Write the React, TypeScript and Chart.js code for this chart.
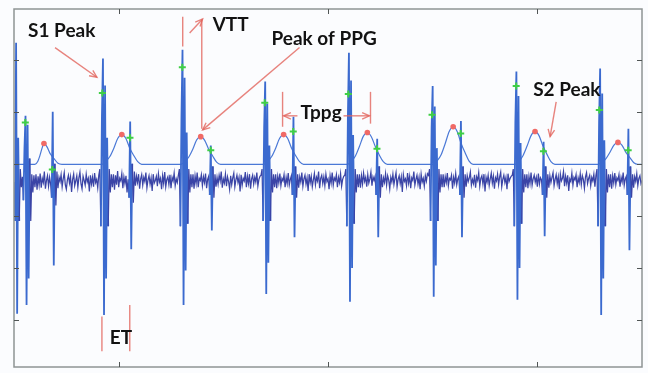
import React, { useEffect, useRef } from 'react';
import { Chart, registerables } from 'chart.js';

Chart.register(...registerables);

// Time base (ms) of the heart-sound (PCG) recording
const PCG_T0 = 500;
const PCG_DT = 5;

// PCG amplitude samples (a.u.), one every PCG_DT ms
const PCG = [
  15, -60, 282, -238, 100, -60, 40, 5, 25, -20, 80, 142, -221, 125, -170, 60, -60, 30, -5, 28,
  5, 30, 0, 26, 9, 31, 4, 22, 14, 35, 2, 18, 27, 7, 24, 11, -15, 150, -145, 50,
  -30, 35, 3, 24, 16, 29, 6, 21, 33, 10, 1, 19, 28, 13, 25, -4, 20, 30, 8, 17,
  27, 5, 23, 34, 12, 2, 26, 18, 9, 30, 15, 22, -3, 28, 11, 24, 6, 32, 14, 20,
  4, 28, 40, -70, 140, 252, -240, 200, -170, 100, -70, 40, -5, 30, 5, 30, 0, 28, 10, 36,
  5, 22, 17, 31, 3, 25, 12, 27, -5, 20, -15, 131, -114, 50, -25, 35, 8, 26, 14, 30,
  2, 21, 29, 9, 24, 16, 33, 4, 19, 27, 11, 23, -2, 30, 13, 18, 26, 7, 31, 15,
  22, 1, 27, 12, 34, 6, 20, 25, 10, 29, 3, 24, 17, 32, 8, 21, 14, 28, 40, -70,
  140, 269, -221, 215, -155, 110, -65, 40, -5, 30, 5, 30, 2, 27, 12, 33, 5, 22, 18, 29,
  8, 25, 14, 31, 3, 20, 26, -10, 85, -78, 45, -15, 30, 6, 24, 11, 28, 17, 35, 4,
  21, 13, 30, 7, 25, 16, 1, 27, 10, 23, 32, 6, 19, 28, 14, 24, -3, 29, 9, 22,
  17, 34, 5, 26, 12, 30, 2, 21, 28, 11, 24, 15, 33, 7, 20, 26, 28, 40, -60, 120,
  208, -200, 165, -140, 85, -60, 40, -5, 30, 5, 30, 3, 26, 13, 31, 8, 22, 17, 29, 5,
  24, 12, 32, 9, 20, 27, -10, 140, -91, 45, -15, 30, 4, 25, 15, 33, 7, 21, 28, 11,
  23, -2, 30, 14, 26, 6, 19, 31, 10, 24, 17, 35, 3, 22, 28, 12, 25, 8, 30, 16,
  21, 1, 27, 13, 33, 9, 23, 18, 29, 5, 24, 14, 31, 7, 20, 26, 28, 40, -70, 140,
  263, -215, 210, -150, 105, -65, 40, -5, 30, 5, 30, 4, 27, 11, 32, 16, 24, 6, 29, 13,
  21, 34, 8, 25, 18, 26, -10, 98, -91, 45, -15, 30, 5, 23, 14, 31, 9, 27, 19, 2,
  24, 15, 30, 10, 22, 33, 6, 20, 27, 12, 25, -4, 29, 16, 21, 8, 32, 13, 26, 3,
  23, 18, 35, 9, 20, 28, 11, 24, 1, 30, 15, 22, 7, 27, 17, 31, 28, 40, -60, 120,
  199, -205, 160, -145, 80, -60, 40, -5, 30, 5, 30, 5, 25, 14, 32, 8, 22, 19, 28, 2,
  24, 13, 31, 10, 21, 26, -10, 132, -91, 45, -15, 30, 6, 27, 16, 23, 34, 9, 20, 12,
  29, 4, 25, 18, 33, 7, 22, 27, 11, 30, -3, 24, 15, 28, 8, 21, 32, 13, 26, 2,
  23, 17, 30, 10, 25, 34, 6, 20, 28, 14, 24, 1, 31, 16, 22, 26, 28, 40, -70, 130,
  227, -211, 180, -150, 90, -65, 40, -5, 30, 5, 30, 3, 26, 12, 33, 9, 21, 28, 15, 24,
  6, 31, 11, 23, 19, -10, 92, -89, 45, -15, 30, 4, 27, 14, 24, 33, 8, 20, 29, 12,
  25, 1, 30, 17, 22, 35, 7, 26, 13, 28, -2, 21, 16, 32, 9, 24, 19, 29, 5, 23,
  14, 31, 10, 27, 20, 3, 25, 33, 12, 22, 28, 8, 24, 17, 30, 6, 28, 40, -70, 130,
  233, -240, 185, -170, 95, -70, 40, -5, 30, 5, 30, 2, 27, 13, 32, 10, 23, 18, 29, 6,
  24, 15, 33, 9, 21, 26, -10, 117, -116, 45, -15, 30, 4, 25, 16, 31, 8, 22, 27, 12,
  18,
];

// PPG (pulse) curve: time (ms) and amplitude (a.u.)
const PPG_T = [
  500,
  600, 614, 624, 634, 643, 657, 672, 691, 710, 729,
  920, 939, 958, 977, 996, 1015, 1034, 1053, 1072, 1091, 1110,
  1297, 1316, 1335, 1354, 1373, 1392, 1411, 1430, 1449, 1468, 1487,
  1693, 1712, 1731, 1750, 1769, 1788, 1807, 1826, 1845, 1864, 1883,
  2093, 2112, 2131, 2150, 2169, 2188, 2207, 2226, 2245, 2264, 2283,
  2503, 2522, 2541, 2560, 2579, 2598, 2617, 2636, 2655, 2674, 2693,
  2894, 2913, 2932, 2951, 2970, 2989, 3008, 3027, 3046, 3065, 3084,
  3290, 3309, 3328, 3347, 3366, 3385, 3404, 3423, 3442, 3461, 3480,
  3500,
];
const PPG_V = [
  49,
  49, 55, 66, 80, 89, 83, 70, 60, 51, 49,
  49, 55, 64, 80, 99, 106, 99, 80, 66, 54, 49,
  49, 54, 63, 78, 96, 102, 95, 78, 65, 53, 49,
  49, 55, 64, 80, 99, 106, 99, 80, 66, 54, 49,
  49, 55, 65, 83, 103, 110, 102, 83, 67, 54, 49,
  49, 56, 68, 89, 112, 121, 112, 89, 71, 55, 49,
  49, 55, 66, 84, 104, 112, 104, 84, 68, 54, 49,
  49, 53, 60, 72, 86, 91, 86, 72, 62, 52, 49,
  49,
];

// Detected PPG peaks (red)
const PPG_PEAK_T = [643, 1015, 1392, 1788, 2188, 2598, 2989, 3385];
const PPG_PEAK_V = [89, 106, 102, 106, 110, 121, 112, 91];

// Detected S1 / S2 points on the PCG (green)
const PCG_MARK_T = [554, 683, 922, 1054, 1304, 1440, 1698, 1834, 2097, 2234, 2497, 2634, 2899, 3029, 3296, 3434];
const PCG_MARK_V = [129, 39, 186, 100, 235, 76, 167, 112, 184, 79, 144, 108, 199, 74, 153, 76];

// Axis ranges and ticks
const X_MIN = 500;
const X_MAX = 3500;
const Y_MIN = -340;
const Y_MAX = 347;
const X_TICKS = [1000, 2000, 3000];
const Y_TICKS = [-250, -150, -50, 50, 150, 250];

// Annotation texts (data coordinates: left / baseline)
const LABEL_TEXT = ['S1 Peak', 'VTT', 'Peak of PPG', 'Tppg', 'S2 Peak', 'ET'];
const LABEL_T = [567, 1449, 1730, 1869, 2980, 958];
const LABEL_V = [294, 305, 277, 136, 180, -295];

// Annotation lines [t1, v1, t2, v2, arrowhead]
const ANNOT_LINES: [number, number, number, number, boolean][] = [
  [696, 273, 896, 216, true],
  [1306, 332, 1306, 275, false],
  [1339, 301, 1401, 328, true],
  [1397, 117, 1397, 326, false],
  [1864, 273, 1401, 115, true],
  [1783, 188, 1783, 121, false],
  [2203, 188, 2203, 127, false],
  [1854, 142, 1788, 142, true],
  [2074, 142, 2198, 142, true],
  [3090, 169, 3061, 102, true],
  [920, -243, 920, -310, false],
  [1053, -221, 1053, -310, false],
];

function arrowHead(ctx: CanvasRenderingContext2D, x1: number, y1: number, x2: number, y2: number) {
  const a = Math.atan2(y2 - y1, x2 - x1);
  const s = 8;
  ctx.beginPath();
  ctx.moveTo(x2 - s * Math.cos(a - 0.42), y2 - s * Math.sin(a - 0.42));
  ctx.lineTo(x2, y2);
  ctx.lineTo(x2 - s * Math.cos(a + 0.42), y2 - s * Math.sin(a + 0.42));
  ctx.stroke();
}

const bgPlugin = {
  id: 'bg',
  beforeDraw(chart: any) {
    const ctx = chart.ctx;
    ctx.save();
    ctx.fillStyle = '#fbfcfe';
    ctx.fillRect(0, 0, chart.width, chart.height);
    ctx.restore();
  },
};

const framePlugin = {
  id: 'frameTicks',
  afterDraw(chart: any) {
    const ctx: CanvasRenderingContext2D = chart.ctx;
    const { left, right, top, bottom } = chart.chartArea;
    const xs = chart.scales.x;
    const ys = chart.scales.y;
    ctx.save();
    // annotations
    ctx.strokeStyle = 'rgba(226, 100, 92, 0.8)';
    ctx.lineWidth = 1.4;
    ANNOT_LINES.forEach(([t1, v1, t2, v2, head]) => {
      const x1 = xs.getPixelForValue(t1);
      const y1 = ys.getPixelForValue(v1);
      const x2 = xs.getPixelForValue(t2);
      const y2 = ys.getPixelForValue(v2);
      ctx.beginPath();
      ctx.moveTo(x1, y1);
      ctx.lineTo(x2, y2);
      ctx.stroke();
      if (head) arrowHead(ctx, x1, y1, x2, y2);
    });
    ctx.fillStyle = '#121212';
    ctx.font = 'bold 19px Lato, "DejaVu Sans", sans-serif';
    ctx.textBaseline = 'alphabetic';
    ctx.textAlign = 'left';
    LABEL_TEXT.forEach((txt, k) => {
      ctx.fillText(txt, xs.getPixelForValue(LABEL_T[k]), ys.getPixelForValue(LABEL_V[k]));
    });
    // frame
    ctx.strokeStyle = '#8f9494';
    ctx.lineWidth = 1.5;
    ctx.strokeRect(left, top, right - left, bottom - top);
    // inward ticks
    ctx.strokeStyle = '#505555';
    ctx.lineWidth = 1;
    X_TICKS.forEach((t) => {
      const x = Math.round(xs.getPixelForValue(t)) + 0.5;
      ctx.beginPath();
      ctx.moveTo(x, top);
      ctx.lineTo(x, top + 5);
      ctx.moveTo(x, bottom);
      ctx.lineTo(x, bottom - 5);
      ctx.stroke();
    });
    Y_TICKS.forEach((v) => {
      const y = Math.round(ys.getPixelForValue(v)) + 0.5;
      ctx.beginPath();
      ctx.moveTo(left, y);
      ctx.lineTo(left + 5, y);
      ctx.moveTo(right, y);
      ctx.lineTo(right - 5, y);
      ctx.stroke();
    });
    ctx.restore();
  },
};

const isSpike = (c: any) => Math.abs(c.p0.parsed.y) > 70 || Math.abs(c.p1.parsed.y) > 70;

export default function App() {
  const ref = useRef<HTMLCanvasElement | null>(null);

  useEffect(() => {
    if (!ref.current) return;
    const pcgData = PCG.map((v, i) => ({ x: PCG_T0 + i * PCG_DT, y: v }));
    const ppgData = PPG_T.map((t, i) => ({ x: t, y: PPG_V[i] }));
    const peakData = PPG_PEAK_T.map((t, i) => ({ x: t, y: PPG_PEAK_V[i] }));
    const markData = PCG_MARK_T.map((t, i) => ({ x: t, y: PCG_MARK_V[i] }));

    const chart = new Chart(ref.current, {
      type: 'line',
      data: {
        datasets: [
          {
            data: markData,
            showLine: false,
            pointStyle: 'cross',
            pointRadius: 3.5,
            pointBorderWidth: 2,
            pointBorderColor: '#3fcf45',
            pointBackgroundColor: '#3fcf45',
            order: 0,
          },
          {
            data: peakData,
            showLine: false,
            pointStyle: 'circle',
            pointRadius: 2.8,
            pointBorderWidth: 0,
            pointBackgroundColor: '#f06a66',
            order: 0,
          },
          {
            data: pcgData,
            borderColor: '#3a44a6',
            borderWidth: 1.25,
            pointRadius: 0,
            tension: 0,
            order: 1,
            segment: {
              borderColor: (c: any) => (isSpike(c) ? '#3b6acf' : '#3a44a6'),
              borderWidth: (c: any) => (isSpike(c) ? 1.8 : 1.25),
            },
          },
          {
            data: ppgData,
            borderColor: '#4a78d6',
            borderWidth: 1.2,
            pointRadius: 0,
            cubicInterpolationMode: 'monotone',
            order: 2,
          },
        ],
      },
      options: {
        responsive: false,
        animation: false,
        events: [],
        layout: { padding: { left: 14, top: 9, right: 5, bottom: 2 } },
        scales: {
          x: { type: 'linear', min: X_MIN, max: X_MAX, display: false },
          y: { type: 'linear', min: Y_MIN, max: Y_MAX, display: false },
        },
        plugins: {
          legend: { display: false },
          tooltip: { enabled: false },
        },
      },
      plugins: [bgPlugin, framePlugin],
    } as any);
    return () => chart.destroy();
  }, []);

  return (
    <div style={{ position: 'fixed', left: 0, top: 0, width: 648, height: 373 }}>
      <canvas ref={ref} width={648} height={373} style={{ display: 'block' }} />
    </div>
  );
}
